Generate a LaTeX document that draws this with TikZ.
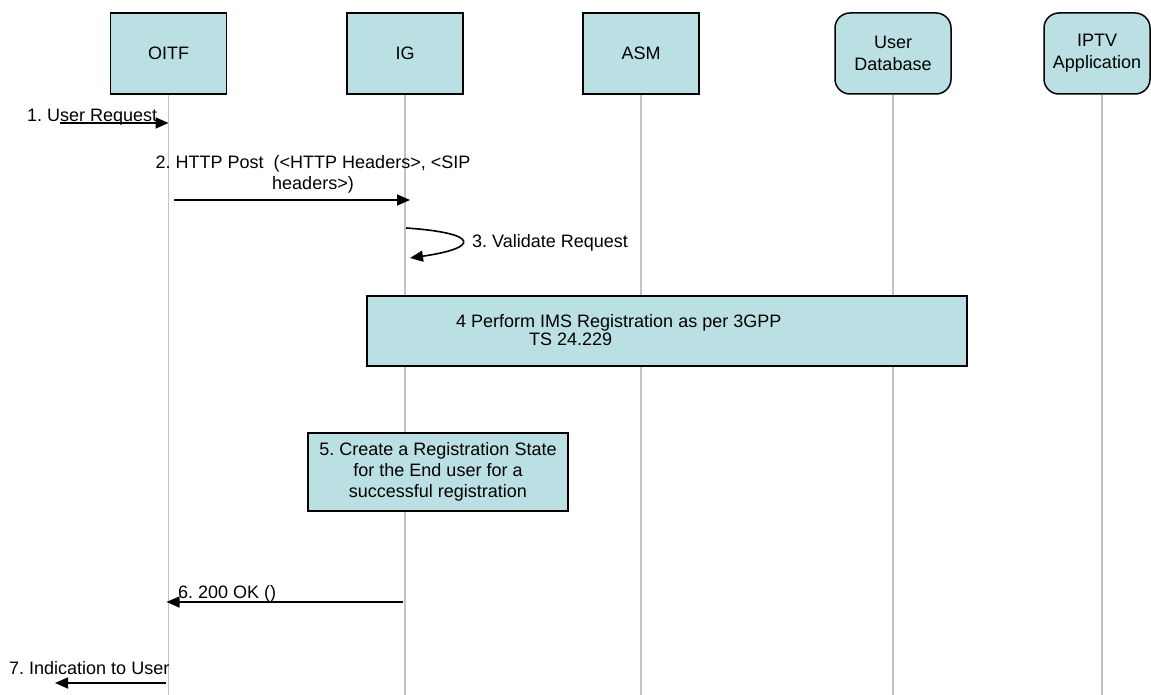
\documentclass[tikz,border=0pt]{standalone}
\usepackage{fontspec}
\setmainfont{Liberation Sans}
\usetikzlibrary{arrows.meta,positioning,calc}
\definecolor{boxblue}{RGB}{187,224,227}
\definecolor{lifegray}{RGB}{195,195,195}
\frenchspacing

\begin{document}
\begin{tikzpicture}[x=1pt,y=-1pt,
  font=\fontsize{18}{21}\selectfont,
  entity/.style={draw=black,fill=boxblue,line width=1.5pt,minimum width=116pt,minimum height=81pt,inner sep=2pt,align=center},
  roundentity/.style={entity,rounded corners=15pt},
  actionbox/.style={draw=black,fill=boxblue,line width=1.5pt,inner sep=0pt},
  lifeline/.style={draw=lifegray,line width=1.5pt},
  msg/.style={line width=1.6pt,-{Triangle[length=13pt,width=11pt]}},
  msgtext/.style={inner sep=0pt}]
\useasboundingbox (0,0) rectangle (1151,695);

\node[entity] at (168.5,53.5) (oitf) {OITF};
\node[entity] at (405,53.5) (ig) {IG};
\node[entity] at (641,53.5) (asm) {ASM};
\node[roundentity,font=\fontsize{18}{22}\selectfont] at (893,53.5) (userdb) {User\\Database};
\node[roundentity,minimum width=106pt,font=\fontsize{18}{22}\selectfont] at (1097,53.5) (iptv) {IPTV\\Application};

\coordinate (bottom) at (0,695);
\draw[lifeline] (oitf.south) -- (oitf.south |- bottom);
\draw[lifeline] (ig.south) -- (ig.south |- bottom);
\draw[lifeline] (asm.south) -- (asm.south |- bottom);
\draw[lifeline] (userdb.south) -- (userdb.south |- bottom);
\draw[lifeline] ($(iptv.south)+(5,0)$) -- ($(iptv.south |- bottom)+(5,0)$);

\node[actionbox,minimum width=600pt,minimum height=70pt] at (667,331) (ims) {};
\node[msgtext,anchor=north west,align=left,font=\fontsize{18}{18}\selectfont] at (456,314)
  (imstext) {4 Perform IMS Registration as per 3GPP\\\hspace*{73pt}TS 24.229};

\node[actionbox,minimum width=260pt,minimum height=78pt,align=center] at (438,472)
  (regstate) {5. Create a Registration State\\for the End user for a\\successful registration};

\coordinate (user1) at (60,123);
\coordinate (r2) at (0,200);
\coordinate (r3a) at (0,228);
\coordinate (r3b) at (0,258);
\coordinate (r6) at (0,602);
\coordinate (user7) at (55,683);

\node[msgtext,anchor=base west] at (27,122) (l1) {1. User Request};
\draw[msg] (user1) -- (oitf.south |- user1);

\node[msgtext,anchor=north,align=center] at (313,155)
  (l2) {2. HTTP Post\ \ (<HTTP Headers>, <SIP\\headers>)};
\draw[msg] ($(oitf.south |- r2)+(5,0)$) -- ($(ig.south |- r2)+(5,0)$);

\node[msgtext,anchor=base west] at (472,247.5) (l3) {3. Validate Request};
\draw[msg] ($(ig.south |- r3a)+(1,0)$) .. controls (480,233) and (480,248) .. ($(ig.south |- r3b)+(5,0)$);

\node[msgtext,anchor=base west] at (178,598.5) (l6) {6. 200 OK ()};
\draw[msg] ($(ig.south |- r6)+(-2,0)$) -- ($(oitf.south |- r6)+(-2,0)$);

\node[msgtext,anchor=base west] at (9,674.5) (l7) {7. Indication to User};
\draw[msg] ($(oitf.south |- user7)+(-3,0)$) -- (user7);
\end{tikzpicture}
\end{document}
